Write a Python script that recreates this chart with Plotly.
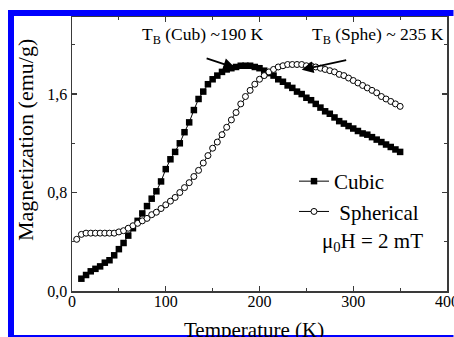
import plotly.graph_objects as go

# ---- data ----
cubic_T = [10, 15, 20, 25, 30, 35, 40, 45, 50, 55, 60, 65, 70, 75, 80, 85, 90, 95, 100,
           105, 110, 115, 120, 125, 130, 135, 140, 145, 150, 155, 160, 165, 170, 175, 180,
           185, 190, 195, 200, 205, 210, 215, 220, 225, 230, 235, 240, 245, 250, 255, 260,
           265, 270, 275, 280, 285, 290, 295, 300, 305, 310, 315, 320, 325, 330, 335, 340,
           345, 350]
cubic_M = [0.10, 0.13, 0.16, 0.18, 0.20, 0.23, 0.25, 0.29, 0.34, 0.39, 0.45, 0.51, 0.57,
           0.63, 0.69, 0.75, 0.81, 0.89, 0.99, 1.07, 1.13, 1.20, 1.29, 1.37, 1.47, 1.56,
           1.62, 1.68, 1.72, 1.75, 1.78, 1.80, 1.81, 1.82, 1.83, 1.83, 1.83, 1.82, 1.81,
           1.79, 1.77, 1.75, 1.72, 1.70, 1.67, 1.65, 1.62, 1.60, 1.57, 1.55, 1.52, 1.49,
           1.46, 1.44, 1.41, 1.38, 1.36, 1.34, 1.32, 1.30, 1.28, 1.27, 1.25, 1.23, 1.21,
           1.19, 1.17, 1.15, 1.13]

sphe_T = [5, 10, 15, 20, 25, 30, 35, 40, 45, 50, 55, 60, 65, 70, 75, 80, 85, 90, 95, 100,
          105, 110, 115, 120, 125, 130, 135, 140, 145, 150, 155, 160, 165, 170, 175, 180,
          185, 190, 195, 200, 205, 210, 215, 220, 225, 230, 235, 240, 245, 250, 255, 260,
          265, 270, 275, 280, 285, 290, 295, 300, 305, 310, 315, 320, 325, 330, 335, 340,
          345, 350]
sphe_M = [0.42, 0.46, 0.47, 0.47, 0.47, 0.47, 0.47, 0.47, 0.47, 0.48, 0.49, 0.51, 0.53,
          0.55, 0.57, 0.59, 0.62, 0.64, 0.67, 0.70, 0.73, 0.76, 0.80, 0.84, 0.88, 0.93,
          0.98, 1.04, 1.10, 1.16, 1.21, 1.27, 1.33, 1.39, 1.45, 1.52, 1.58, 1.63, 1.68,
          1.72, 1.75, 1.78, 1.80, 1.82, 1.83, 1.84, 1.84, 1.84, 1.84, 1.83, 1.83, 1.82,
          1.81, 1.80, 1.79, 1.78, 1.76, 1.75, 1.73, 1.71, 1.69, 1.67, 1.65, 1.63, 1.61,
          1.58, 1.56, 1.54, 1.52, 1.50]

x_ticks = [0, 100, 200, 300, 400]
y_ticks = [0.0, 0.8, 1.6]
y_tick_text = ["0,0", "0,8", "1,6"]

FONT = "Liberation Serif"
AX = "#3a3a3a"

fig = go.Figure()
fig.add_trace(go.Scatter(
    x=cubic_T, y=cubic_M, mode="lines+markers", name="Cubic",
    line=dict(color="black", width=1),
    marker=dict(symbol="square", size=6.5, color="black"),
))
fig.add_trace(go.Scatter(
    x=sphe_T, y=sphe_M, mode="lines+markers", name=" Spherical",
    line=dict(color="black", width=1),
    marker=dict(symbol="circle", size=6, color="white", line=dict(color="black", width=1)),
))

axis_common = dict(
    showline=True, linecolor=AX, linewidth=1.5, mirror="allticks",
    ticks="inside", ticklen=5, tickwidth=1.2, tickcolor=AX,
    showgrid=False, zeroline=False, ticklabeloverflow="allow", automargin=False,
    tickfont=dict(family=FONT, size=16, color="black"),
)

fig.update_xaxes(range=[0, 400], tickvals=x_ticks, ticklabelstandoff=-5,
                 minor=dict(dtick=50, ticks="inside", ticklen=3, tickcolor=AX, showgrid=False),
                 **axis_common)
fig.update_yaxes(range=[0, 2.226], tickvals=y_ticks, ticktext=y_tick_text,
                 minor=dict(dtick=0.4, ticks="inside", ticklen=3, tickcolor=AX, showgrid=False),
                 **axis_common)

# page-pixel -> paper helpers (plot area spans page x 72..447 and page y 17..291)
def px_x(p):
    return (p - 72) / 375.0

def px_y(p):
    return (291 - p) / 274.0

annotations = [
    dict(text="Temperature (K)", x=px_x(254), y=px_y(316), xref="paper", yref="paper",
         xanchor="center", yanchor="top", showarrow=False,
         font=dict(family=FONT, size=21, color="black")),
    dict(text="Magnetization (emu/g)", x=px_x(25), y=px_y(140), xref="paper", yref="paper",
         xanchor="center", yanchor="middle", textangle=-90, showarrow=False,
         font=dict(family=FONT, size=22, color="black")),
    dict(text="T<sub>B</sub> (Cub) ~190 K", x=140, y=2.075, xref="x", yref="y",
         xanchor="center", yanchor="middle", showarrow=False,
         font=dict(family=FONT, size=17.5, color="black")),
    dict(text="T<sub>B</sub> (Sphe) ~ 235 K", x=326, y=2.075, xref="x", yref="y",
         xanchor="center", yanchor="middle", showarrow=False,
         font=dict(family=FONT, size=17.5, color="black")),
    dict(text="", x=174, y=1.813, xref="x", yref="y", ax=-30, ay=-10,
         showarrow=True, arrowhead=2, arrowsize=1.3, arrowwidth=1.8, arrowcolor="black"),
    dict(text="", x=245, y=1.797, xref="x", yref="y", ax=46, ay=-10,
         showarrow=True, arrowhead=2, arrowsize=1.3, arrowwidth=1.8, arrowcolor="black"),
    dict(text="\u03bc<sub>0</sub>H = 2 mT", x=320.5, y=0.398, xref="x", yref="y",
         xanchor="center", yanchor="middle", showarrow=False,
         font=dict(family=FONT, size=21, color="black")),
]

BLUE = "#0000ff"
shapes = [
    dict(type="rect", xref="paper", yref="paper", x0=px_x(8), x1=px_x(14),
         y0=px_y(337), y1=px_y(10), fillcolor=BLUE, line=dict(width=0), layer="above"),
    dict(type="rect", xref="paper", yref="paper", x0=px_x(8), x1=px_x(453.5),
         y0=px_y(16), y1=px_y(10), fillcolor=BLUE, line=dict(width=0), layer="above"),
    dict(type="rect", xref="paper", yref="paper", x0=px_x(8), x1=px_x(453.5),
         y0=px_y(337), y1=px_y(335), fillcolor=BLUE, line=dict(width=0), layer="above"),
]

fig.update_layout(
    width=454, height=337,
    margin=dict(l=72, r=7, t=17, b=46),
    paper_bgcolor="white", plot_bgcolor="white",
    font=dict(family=FONT, color="black"),
    showlegend=True,
    hovermode=False,
    legend=dict(x=px_x(294), y=px_y(161), xanchor="left", yanchor="top",
                bgcolor="rgba(0,0,0,0)", font=dict(family=FONT, size=21, color="black"),
                itemwidth=30, tracegroupgap=0),
    annotations=annotations,
    shapes=shapes,
)

fig.write_html(
    "out.html",
    config={"displayModeBar": False, "staticPlot": True},
    post_script=("document.documentElement.style.margin='0';"
                 "document.body.style.margin='0';"
                 "document.body.style.overflow='hidden';"
                 "document.documentElement.style.overflow='hidden';"),
)
